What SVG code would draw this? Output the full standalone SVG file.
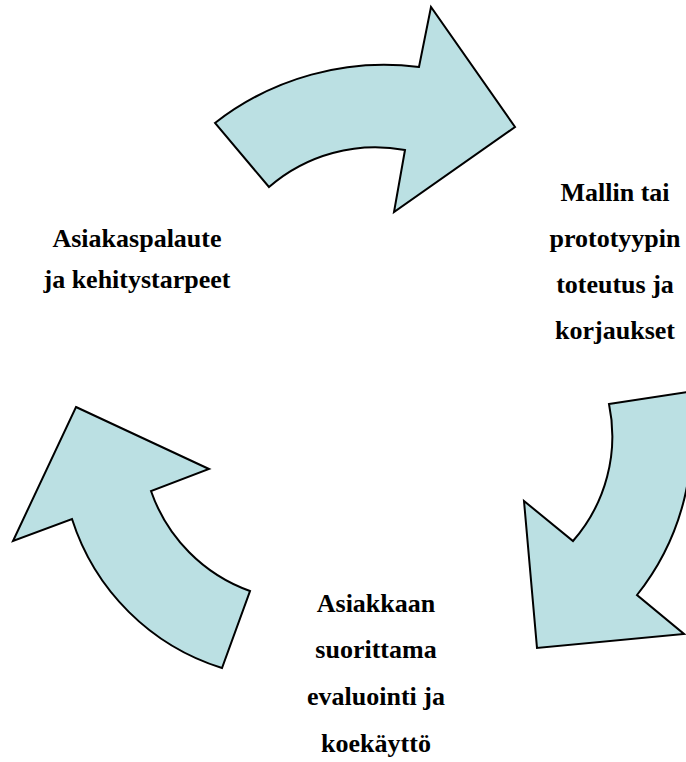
<svg xmlns="http://www.w3.org/2000/svg" width="686" height="762" viewBox="0 0 686 762">
  <style>
    .arrow { fill: #BBE0E3; stroke: #000000; stroke-width: 2; stroke-linejoin: miter; }
    .label { font-family: "Liberation Serif", "Times New Roman", serif; font-weight: bold; font-size: 26px; fill: #000000; text-anchor: middle; }
  </style>
  <rect width="686" height="762" fill="#FFFFFF"/>

  <!-- Curved block arrows forming the cycle -->
  <g id="connectors">
    <path id="arrow-top" class="arrow" d="M215,123 A275,275 0 0 1 419,67 L431,7 L515,127 L394,212 L405,150 A162,162 0 0 0 269,187 Z"/>
    <path id="arrow-right" class="arrow" d="M609,404 L687,392 A250,250 0 0 1 637,595 L684,634 L537,648 L524,501 L573,541 A159,159 0 0 0 609,404 Z"/>
    <path id="arrow-left" class="arrow" d="M76,407 L209,469 L151,491 A163,163 0 0 0 250,591 L222,668 A229,229 0 0 1 72,519 L13,541 Z"/>
  </g>

  <!-- Stage labels -->
  <g id="node-feedback">
    <text class="label" x="137" y="247">Asiakaspalaute</text>
    <text class="label" x="137" y="288">ja kehitystarpeet</text>
  </g>
  <g id="node-implementation">
    <text class="label" x="615" y="201">Mallin tai</text>
    <text class="label" x="615" y="247">prototyypin</text>
    <text class="label" x="615" y="293">toteutus ja</text>
    <text class="label" x="615" y="339">korjaukset</text>
  </g>
  <g id="node-evaluation">
    <text class="label" x="376" y="612">Asiakkaan</text>
    <text class="label" x="376" y="658">suorittama</text>
    <text class="label" x="376" y="705">evaluointi ja</text>
    <text class="label" x="376" y="752">koekäyttö</text>
  </g>
</svg>
